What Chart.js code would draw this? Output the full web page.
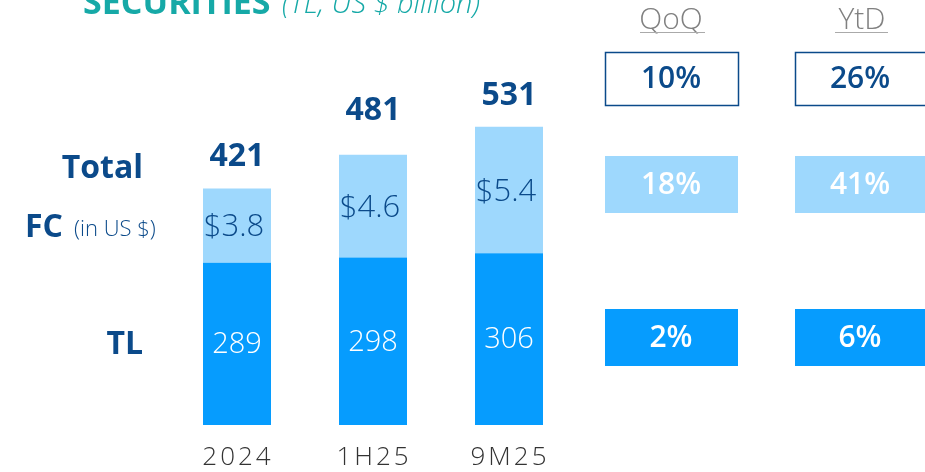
<!DOCTYPE html>
<html>
<head>
<meta charset="utf-8">
<script src="https://cdn.jsdelivr.net/npm/chart.js@4"></script>
<style>
  body { margin: 0; background: #fff; }
  #wrap { width: 925px; height: 472px; position: relative; }
</style>
</head>
<body>
<div id="wrap"><canvas id="securities"></canvas></div>
<script>
var categories = ['2024', '1H25', '9M25'];
var tlValues = [289, 298, 306];
var fcValues = [132, 183, 225];      // FC part, in TL
var totalValues = [421, 481, 531];
var fcUsdLabels = ['$3.8', '$4.6', '$5.4'];
var qoqLabels = ['10%', '18%', '2%'];
var ytdLabels = ['26%', '41%', '6%'];

var NAVY = '#0B4A8A';
var TEAL = '#16A9A7';
var LIGHT = '#9ED8FD';
var BRIGHT = '#069CFE';
var FONT = '"Open Sans", sans-serif';

// gap between bar top and the total label (the original isn't regular)
var totalGap = [32, 44, 31];

var data_tl = {
  label: 'TL',
  data: tlValues,
  backgroundColor: BRIGHT,
  borderWidth: 0,
  barPercentage: 0.5,
  categoryPercentage: 1
};

var data_fc = {
  label: 'FC',
  data: fcValues,
  backgroundColor: LIGHT,
  borderWidth: 0,
  barPercentage: 0.5,
  categoryPercentage: 1
};

function boxRow(ctx, text, y, h, style) {
  var cols = [[605, 133, 671], [795, 140, 860]];
  cols.forEach(function (c, i) {
    ctx.save();
    if (style === 'outline') {
      ctx.strokeStyle = NAVY;
      ctx.lineWidth = 1.5;
      ctx.strokeRect(c[0] + 0.5, y + 0.5, c[1], h);
      ctx.fillStyle = NAVY;
    } else {
      ctx.fillStyle = style;
      ctx.fillRect(c[0], y, c[1], h);
      ctx.fillStyle = '#fff';
    }
    ctx.font = '600 30px ' + FONT;
    ctx.textAlign = 'center';
    ctx.textBaseline = 'middle';
    ctx.fillText(text[i], c[2], y + h / 2 + 1);
    ctx.restore();
  });
}

var labelsPlugin = {
  id: 'labels',
  afterDatasetsDraw: function (chart) {
    var ctx = chart.ctx;
    var tlMeta = chart.getDatasetMeta(0);
    var fcMeta = chart.getDatasetMeta(1);
    var xs = chart.scales.x;

    ctx.save();
    // title (cut off at top)
    ctx.textBaseline = 'alphabetic';
    ctx.textAlign = 'left';
    ctx.fillStyle = TEAL;
    ctx.font = 'bold 34px ' + FONT;
    ctx.fillText('SECURITIES', 83, 14);
    ctx.font = 'italic 300 29px ' + FONT;
    ctx.fillText('(TL, US $ billion)', 282, 13);

    // left row labels
    ctx.fillStyle = NAVY;
    ctx.textAlign = 'right';
    ctx.font = 'bold 32px ' + FONT;
    ctx.fillText('Total', 143, 178);
    ctx.fillText('TL', 143, 354);
    ctx.textAlign = 'left';
    ctx.fillText('FC', 25, 237);
    ctx.font = '300 22px ' + FONT;
    ctx.fillText('(in US $)', 74, 236);

    ctx.textAlign = 'center';
    ctx.textBaseline = 'middle';
    for (var i = 0; i < categories.length; i++) {
      var top = fcMeta.data[i];
      var bot = tlMeta.data[i];
      // totals
      ctx.fillStyle = NAVY;
      ctx.font = 'bold 32px ' + FONT;
      ctx.fillText(totalValues[i], top.x, top.y - totalGap[i]);
      // FC in US $
      ctx.font = '300 31px ' + FONT;
      ctx.fillText(fcUsdLabels[i], top.x - 3, (top.y + top.base) / 2 + 2);
      // TL
      ctx.fillStyle = '#fff';
      ctx.font = '300 29px ' + FONT;
      ctx.fillText(tlValues[i], bot.x, (bot.y + bot.base) / 2 + 1);
      // category
      ctx.fillStyle = '#333';
      ctx.font = '300 26px ' + FONT;
      ctx.letterSpacing = '3px';
      ctx.fillText(categories[i], xs.getPixelForValue(i) + 1, 458);
      ctx.letterSpacing = '0px';
    }

    // growth headers
    ctx.fillStyle = '#808080';
    ctx.font = '300 30px ' + FONT;
    ctx.fillText('QoQ', 671, 20);
    ctx.fillText('YtD', 862, 20);
    ctx.strokeStyle = '#aaa';
    ctx.lineWidth = 1;
    ctx.beginPath();
    ctx.moveTo(640, 32.5); ctx.lineTo(705, 32.5);
    ctx.moveTo(835, 32.5); ctx.lineTo(888, 32.5);
    ctx.stroke();
    ctx.restore();

    boxRow(ctx, [qoqLabels[0], ytdLabels[0]], 52, 53, 'outline');
    boxRow(ctx, [qoqLabels[1], ytdLabels[1]], 156, 57, LIGHT);
    boxRow(ctx, [qoqLabels[2], ytdLabels[2]], 309, 57, BRIGHT);
  }
};

var config1 = {
  type: 'bar',
  data: {
    labels: categories,
    datasets: [data_tl, data_fc]
  },
  options: {
    responsive: true,
    maintainAspectRatio: false,
    animation: false,
    layout: {
      padding: { left: 169, right: 348, top: 88, bottom: 47 }
    },
    plugins: {
      legend: { display: false },
      tooltip: { enabled: false }
    },
    scales: {
      x: { stacked: true, display: false },
      y: { stacked: true, display: false, min: 0, max: 600 }
    }
  },
  plugins: [labelsPlugin]
};

var chart = new Chart(document.getElementById('securities'), config1);
</script>
</body>
</html>
